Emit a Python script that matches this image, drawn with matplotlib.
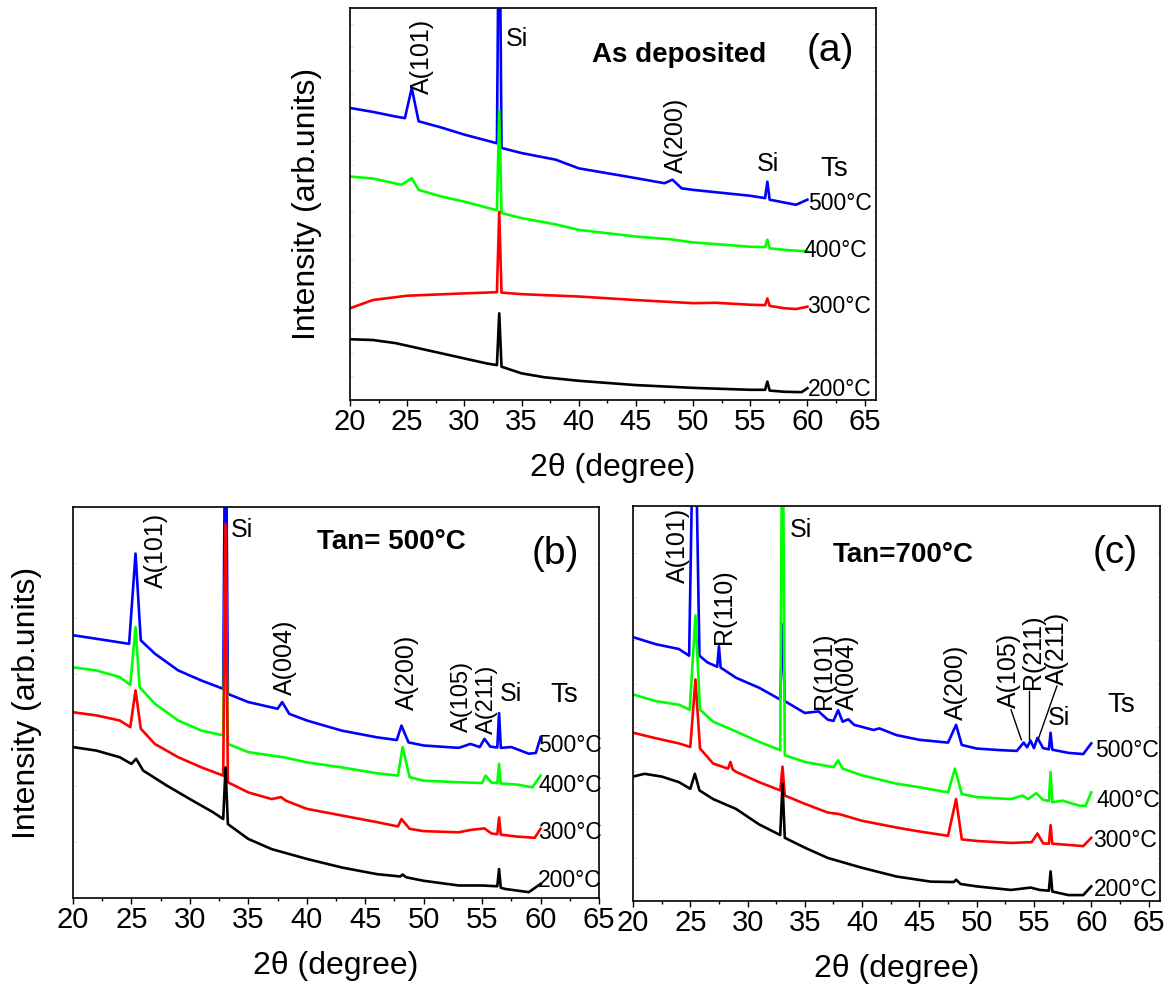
import matplotlib
matplotlib.use("Agg")
import matplotlib.pyplot as plt
from matplotlib.ticker import MultipleLocator

plt.rcParams['font.family'] = ['Liberation Sans', 'DejaVu Sans']

# ---------------- data (2theta in degree, intensity in arb. units 0-100 of panel height)
# Panel (a): as deposited
a_x200 = [20, 22, 24, 26, 28, 30, 32, 32.85, 33.05, 33.25, 35, 37, 40, 45, 50, 55, 56.3, 56.5, 56.7, 58, 59.5, 60]
a_y200 = [15.5, 15.3, 14.5, 13.2, 11.9, 10.6, 9.3, 8.9, 22.1, 8.5, 6.8, 5.8, 4.9, 3.8, 3.1, 2.6, 2.6, 4.7, 2.4, 2.1, 2.0, 3.0]
a_x300 = [20, 22, 25, 30, 32.85, 33.05, 33.25, 35, 40, 45, 50, 52, 55, 56.3, 56.5, 56.7, 58, 59, 60]
a_y300 = [23.4, 25.5, 26.6, 27.2, 27.5, 48.0, 27.4, 27.0, 26.4, 25.5, 24.7, 24.8, 24.3, 24.2, 25.9, 24.0, 23.4, 23.2, 23.8]
a_x400 = [20, 22, 24.5, 25.4, 26, 28, 30, 32.85, 33.05, 33.25, 35, 38, 40, 45, 48, 50, 55, 56.3, 56.5, 56.7, 58, 60]
a_y400 = [57.0, 56.5, 54.9, 56.6, 53.6, 51.9, 50.6, 48.4, 74.0, 47.7, 46.4, 44.8, 43.4, 41.7, 41.0, 40.2, 39.1, 39.0, 40.9, 38.7, 38.3, 37.9]
a_x500 = [20, 22, 24, 24.8, 25.4, 26, 28, 30, 32.85, 33.05, 33.25, 35, 38, 40, 45, 47.5, 48.2, 49, 50, 55, 56.3, 56.5, 56.7, 59, 60]
a_y500 = [74.5, 73.5, 72.3, 71.9, 79.6, 71.1, 69.5, 67.7, 65.5, 140, 64.3, 63.0, 61.3, 59.1, 56.6, 55.3, 56.2, 54.0, 53.6, 52.1, 51.5, 55.7, 51.1, 49.8, 51.1]

# Panel (b): Tan = 500 C
b_x200 = [20, 22, 24, 25, 25.4, 26, 28, 30, 32, 32.85, 33.05, 33.25, 35, 37, 40, 43, 46, 48, 48.2, 48.5, 50, 53, 55, 56.3, 56.45, 56.6, 57, 59, 60]
b_y200 = [38.6, 37.7, 36.0, 34.3, 35.6, 32.6, 28.8, 25.3, 21.9, 20.2, 33.4, 18.9, 15.1, 12.5, 10.0, 7.8, 6.1, 5.5, 6.0, 5.3, 4.4, 3.2, 3.2, 3.0, 7.4, 2.6, 2.3, 1.5, 3.6]
b_x300 = [20, 22, 24, 24.9, 25.35, 25.8, 27, 29, 31, 32.85, 33.05, 33.25, 35, 37, 37.8, 38.2, 40, 43, 46, 47.8, 48.1, 48.8, 50, 53, 54, 55.2, 55.8, 56.3, 56.45, 56.6, 58, 59.5, 60]
b_y300 = [47.5, 46.7, 45.4, 43.7, 53.1, 43.3, 39.4, 36.0, 33.4, 31.3, 95.7, 29.6, 27.0, 25.3, 25.8, 24.9, 22.8, 21.1, 19.4, 18.3, 20.2, 17.7, 17.1, 16.8, 17.4, 17.8, 16.5, 16.3, 20.6, 16.2, 15.7, 15.4, 17.7]
b_x400 = [20, 22, 24, 24.9, 25.35, 25.7, 27, 29, 31, 32.85, 33.05, 33.25, 35, 38, 40, 43, 46, 47.8, 48.2, 48.8, 50, 53, 55, 55.3, 55.8, 56.3, 56.45, 56.6, 58, 59.3, 60]
b_y400 = [59.0, 58.2, 56.5, 54.5, 69.3, 53.9, 49.7, 45.4, 42.8, 41.6, 90.0, 39.4, 37.3, 36.0, 34.7, 33.4, 31.9, 31.3, 38.6, 30.9, 30.0, 29.6, 29.4, 31.3, 29.5, 29.4, 34.3, 29.3, 29.0, 28.3, 31.3]
b_x500 = [20, 22, 24.8, 25.35, 25.8, 27, 29, 31, 32.85, 33.05, 33.25, 35, 37.5, 37.9, 38.5, 40, 43, 46, 47.7, 48.1, 48.7, 50, 53, 54, 54.8, 55.2, 55.7, 56.3, 56.45, 56.6, 57.5, 59, 59.6, 60]
b_y500 = [67.2, 66.3, 65.0, 88.1, 65.9, 62.5, 58.2, 55.6, 53.5, 140, 52.2, 50.1, 48.4, 50.1, 47.1, 45.4, 42.8, 41.1, 40.4, 44.1, 39.8, 39.0, 38.4, 39.4, 38.6, 40.7, 38.7, 38.5, 47.3, 38.4, 38.6, 36.9, 37.1, 41.1]

# Panel (c): Tan = 700 C
c_x200 = [20, 21, 22.5, 24, 25, 25.4, 25.8, 27, 29, 31, 32.85, 33.05, 33.25, 35, 37, 40, 43, 46, 48, 48.2, 48.6, 50, 53, 54.7, 55.5, 56.3, 56.45, 56.6, 58, 59.3, 60]
c_y200 = [31.5, 32.2, 31.5, 30.1, 28.4, 32.2, 28.0, 25.8, 23.3, 19.4, 16.7, 29.7, 16.0, 13.5, 10.9, 8.4, 6.2, 4.9, 4.8, 5.4, 4.3, 3.7, 2.8, 3.4, 2.8, 2.6, 7.5, 2.4, 1.5, 1.5, 3.7]
c_x300 = [20, 22, 24, 25, 25.45, 25.85, 27, 28.3, 28.5, 28.7, 29, 31, 32.85, 33.05, 33.25, 35, 37, 38, 40, 43, 45, 47.5, 48.2, 48.7, 50, 53, 54.8, 55.3, 55.8, 56.3, 56.45, 56.6, 58, 59.3, 60]
c_y300 = [42.6, 41.2, 39.9, 39.0, 56.1, 38.6, 34.8, 33.5, 35.2, 33.3, 32.7, 30.1, 28.0, 34.0, 26.7, 24.6, 22.4, 22.0, 20.3, 18.6, 17.6, 16.5, 25.8, 15.6, 15.2, 14.7, 14.9, 17.1, 14.6, 14.5, 19.2, 14.5, 14.2, 13.9, 16.0]
c_x400 = [20, 22, 24, 24.95, 25.45, 25.85, 27, 29, 31, 32.85, 33.05, 33.25, 35, 37.5, 37.9, 38.3, 40, 43, 45, 47.5, 48.1, 48.7, 50, 53, 54, 54.5, 55.2, 55.8, 56.3, 56.45, 56.6, 57.5, 59, 59.5, 60]
c_y400 = [52.3, 50.6, 49.7, 48.4, 72.3, 48.4, 45.4, 42.9, 40.3, 38.2, 140, 36.9, 35.2, 33.9, 35.6, 33.5, 31.8, 29.7, 28.8, 27.5, 33.5, 27.1, 26.3, 25.8, 26.7, 25.8, 27.3, 25.6, 25.3, 32.7, 25.0, 25.4, 24.1, 24.1, 27.5]
c_x500 = [20, 22, 24, 24.9, 25.35, 25.8, 26.5, 27.35, 27.5, 27.65, 29, 31, 32.85, 33.05, 33.25, 35, 36.2, 37, 37.5, 37.9, 38.3, 38.8, 39.3, 41, 41.5, 43, 45, 47.5, 48.2, 48.7, 50, 52, 53.5, 54.1, 54.4, 54.7, 55.0, 55.3, 55.8, 56.3, 56.45, 56.6, 58, 59.3, 60]
c_y500 = [66.8, 65.0, 63.8, 62.1, 140, 62.1, 60.4, 59.3, 64.5, 59.1, 56.5, 54.0, 51.0, 70.0, 50.6, 47.6, 48.0, 45.9, 45.6, 48.3, 45.4, 46.0, 44.6, 43.3, 43.7, 42.0, 40.8, 40.1, 44.6, 39.5, 38.6, 38.2, 38.0, 40.1, 38.9, 40.6, 38.7, 41.3, 38.7, 38.4, 42.6, 38.3, 37.5, 37.2, 39.9]

temps = ['200\u00b0C', '300\u00b0C', '400\u00b0C', '500\u00b0C']
colors = {'200': 'black', '300': '#ff0000', '400': '#00ff00', '500': '#0000ff'}

# label anchor positions (x deg, y)
a_temp_pos = [(60.0, 2.6), (60.0, 23.8), (59.7, 38.1), (60.05, 50.0)]
b_temp_pos = [(59.8, 4.4), (59.8, 16.8), (59.8, 28.8), (59.8, 39.0)]
c_temp_pos = [(60.2, 3.0), (60.2, 15.3), (60.5, 25.4), (60.3, 38.2)]

# rotated peak labels: (text, x-center, y-bottom)
a_peaks = [('A(101)', 26.3, 78.0), ('A(200)', 48.5, 57.9)]
b_peaks = [('A(101)', 27.1, 79.2), ('A(004)', 38.1, 52.0), ('A(200)', 48.6, 48.0),
           ('A(105)', 53.3, 42.4), ('A(211)', 55.4, 42.0)]
c_peaks = [('A(101)', 23.9, 80.4), ('R(110)', 27.9, 65.0), ('R(101)', 36.7, 48.6),
           ('A(004)', 38.7, 48.4), ('A(200)', 48.2, 45.9), ('A(105)', 52.8, 48.8),
           ('R(211)', 54.9, 53.7), ('A(211)', 57.0, 54.8)]
c_leaders = [((53.0, 48.4), (53.9, 40.8)), ((54.6, 53.1), (54.6, 40.9)), ((57.0, 54.4), (55.4, 41.2))]

W, H = 1175, 994
fig = plt.figure(figsize=(W / 100, H / 100), dpi=100)


def make_ax(l, t, r, b, xmax, ystep):
    ax = fig.add_axes([l / W, 1 - b / H, (r - l) / W, (b - t) / H])
    ax.set_xlim(20, xmax)
    ax.set_ylim(0, 100)
    ax.xaxis.set_major_locator(MultipleLocator(5))
    ax.xaxis.set_minor_locator(MultipleLocator(2.5))
    ax.tick_params(axis='x', which='major', direction='out', length=4, width=1.0,
                   labelsize=21, pad=2, top=False)
    ax.tick_params(axis='x', which='minor', direction='out', length=2.5, width=1.0, top=False)
    ax.yaxis.set_major_locator(MultipleLocator(ystep))
    ax.tick_params(axis='y', which='major', direction='in', length=2.5, width=0.5,
                   color='#cccccc', left=True, right=True, labelleft=False)
    for s in ax.spines.values():
        s.set_linewidth(1.2)
    ax.set_xlabel('2\u03b8 (degree)', fontsize=23, labelpad=12)
    return ax


def draw(ax, series, order):
    for key in order:
        x, y = series[key]
        ax.plot(x, y, color=colors[key], lw=1.9, solid_joinstyle='round')


def temp_labels(ax, pos):
    for t, (x, y) in zip(temps, pos):
        ax.text(x, y, t, fontsize=16.5, ha='left', va='center', clip_on=False)


def peak_labels(ax, peaks, size=18):
    for txt, x, y in peaks:
        ax.text(x, y, txt, fontsize=size, rotation=90, ha='center', va='bottom')


# ---- panel (a)
axa = make_ax(350, 8, 876, 400, 66, 6)
draw(axa, {'200': (a_x200, a_y200), '300': (a_x300, a_y300),
           '400': (a_x400, a_y400), '500': (a_x500, a_y500)}, ['500', '400', '300', '200'])
axa.set_ylabel('Intensity (arb.units)', fontsize=23, labelpad=20)
peak_labels(axa, a_peaks)
axa.text(33.6, 92.0, 'Si', fontsize=18, ha='left', va='center')
axa.text(55.6, 60.3, 'Si', fontsize=18, ha='left', va='center')
axa.text(61.1, 58.9, 'Ts', fontsize=20, ha='left', va='center')
axa.text(41.2, 88.0, 'As deposited', fontsize=20, fontweight='bold', ha='left', va='center')
axa.text(62.0, 89.0, '(a)', fontsize=28, ha='center', va='center')
temp_labels(axa, a_temp_pos)

# ---- panel (b)
axb = make_ax(73, 507, 599, 898, 65, 14.3)
draw(axb, {'200': (b_x200, b_y200), '300': (b_x300, b_y300),
           '400': (b_x400, b_y400), '500': (b_x500, b_y500)}, ['500', '400', '300', '200'])
axb.set_ylabel('Intensity (arb.units)', fontsize=23, labelpad=22)
peak_labels(axb, b_peaks[:3])
peak_labels(axb, b_peaks[3:], size=17)
axb.text(33.5, 94.0, 'Si', fontsize=18, ha='left', va='center')
axb.text(56.5, 52.2, 'Si', fontsize=18, ha='left', va='center')
axb.text(60.8, 52.0, 'Ts', fontsize=20, ha='left', va='center')
axb.text(40.9, 91.0, 'Tan= 500\u00b0C', fontsize=20, fontweight='bold', ha='left', va='center')
axb.text(61.3, 88.0, '(b)', fontsize=28, ha='center', va='center')
temp_labels(axb, b_temp_pos)

# ---- panel (c)
axc = make_ax(633, 506, 1160, 901, 66, 11)
draw(axc, {'200': (c_x200, c_y200), '300': (c_x300, c_y300),
           '400': (c_x400, c_y400), '500': (c_x500, c_y500)}, ['300', '500', '400', '200'])
peak_labels(axc, c_peaks)
for (x0, y0), (x1, y1) in c_leaders:
    axc.plot([x0, x1], [y0, y1], color='black', lw=1.0)
axc.text(33.7, 94.0, 'Si', fontsize=18, ha='left', va='center')
axc.text(56.2, 46.3, 'Si', fontsize=18, ha='left', va='center')
axc.text(61.4, 49.7, 'Ts', fontsize=20, ha='left', va='center')
axc.text(37.4, 87.6, 'Tan=700\u00b0C', fontsize=20, fontweight='bold', ha='left', va='center')
axc.text(62.1, 88.0, '(c)', fontsize=28, ha='center', va='center')
temp_labels(axc, c_temp_pos)

fig.savefig('out.png', dpi=100)
